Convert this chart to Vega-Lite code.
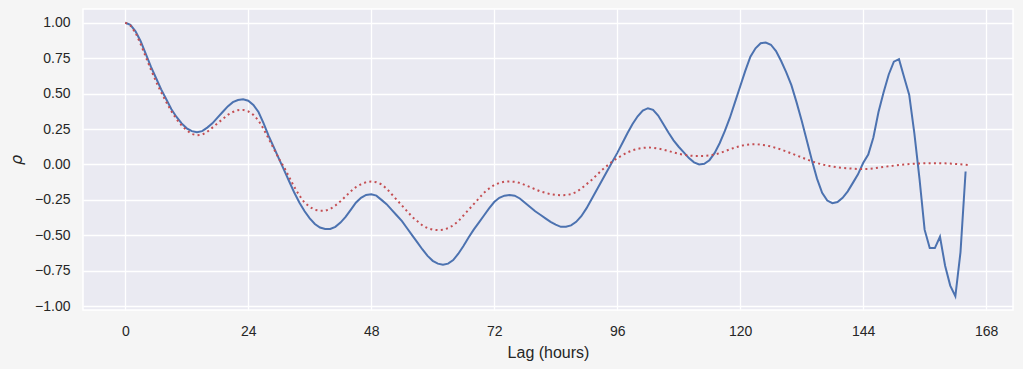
{
  "$schema": "https://vega.github.io/schema/vega-lite/v6.json",
  "width": 930,
  "height": 301,
  "autosize": {"type": "none"},
  "padding": {"left": 83, "top": 9, "right": 10, "bottom": 59},
  "background": "#f5f5f5",
  "config": {
    "view": {"fill": "#eaeaf2", "stroke": "white", "strokeWidth": 1.5},
    "axis": {
      "grid": true, "gridColor": "white", "gridWidth": 1.3, "domain": false,
      "ticks": false, "tickSize": 0, "labelOverlap": false,
      "labelFont": "Liberation Sans", "labelFontSize": 14, "labelColor": "#262626",
      "titleFont": "Liberation Sans", "titleFontSize": 16, "titleColor": "#262626", "titleFontWeight": "normal"
    }
  },
  "data": {"values": [
    {"lag":0,"acf":1.0,"model":1.0},{"lag":1,"acf":0.985,"model":0.98},{"lag":2,"acf":0.94,"model":0.93},{"lag":3,"acf":0.87,"model":0.85},{"lag":4,"acf":0.78,"model":0.76},{"lag":5,"acf":0.69,"model":0.67},{"lag":6,"acf":0.61,"model":0.585},{"lag":7,"acf":0.53,"model":0.51},{"lag":8,"acf":0.46,"model":0.44},{"lag":9,"acf":0.39,"model":0.375},
    {"lag":10,"acf":0.335,"model":0.32},{"lag":11,"acf":0.29,"model":0.275},{"lag":12,"acf":0.255,"model":0.24},{"lag":13,"acf":0.235,"model":0.215},{"lag":14,"acf":0.228,"model":0.206},{"lag":15,"acf":0.235,"model":0.21},{"lag":16,"acf":0.26,"model":0.23},{"lag":17,"acf":0.29,"model":0.26},{"lag":18,"acf":0.33,"model":0.29},{"lag":19,"acf":0.37,"model":0.32},
    {"lag":20,"acf":0.41,"model":0.35},{"lag":21,"acf":0.44,"model":0.37},{"lag":22,"acf":0.455,"model":0.383},{"lag":23,"acf":0.46,"model":0.385},{"lag":24,"acf":0.45,"model":0.375},{"lag":25,"acf":0.42,"model":0.35},{"lag":26,"acf":0.37,"model":0.31},{"lag":27,"acf":0.29,"model":0.25},{"lag":28,"acf":0.2,"model":0.18},{"lag":29,"acf":0.12,"model":0.11},
    {"lag":30,"acf":0.04,"model":0.04},{"lag":31,"acf":-0.04,"model":-0.02},{"lag":32,"acf":-0.12,"model":-0.09},{"lag":33,"acf":-0.2,"model":-0.16},{"lag":34,"acf":-0.27,"model":-0.22},{"lag":35,"acf":-0.33,"model":-0.27},{"lag":36,"acf":-0.38,"model":-0.3},{"lag":37,"acf":-0.42,"model":-0.32},{"lag":38,"acf":-0.445,"model":-0.327},{"lag":39,"acf":-0.455,"model":-0.327},
    {"lag":40,"acf":-0.455,"model":-0.315},{"lag":41,"acf":-0.44,"model":-0.29},{"lag":42,"acf":-0.41,"model":-0.26},{"lag":43,"acf":-0.37,"model":-0.225},{"lag":44,"acf":-0.32,"model":-0.19},{"lag":45,"acf":-0.27,"model":-0.16},{"lag":46,"acf":-0.235,"model":-0.14},{"lag":47,"acf":-0.215,"model":-0.125},{"lag":48,"acf":-0.21,"model":-0.12},{"lag":49,"acf":-0.22,"model":-0.125},
    {"lag":50,"acf":-0.25,"model":-0.14},{"lag":51,"acf":-0.28,"model":-0.17},{"lag":52,"acf":-0.32,"model":-0.21},{"lag":53,"acf":-0.36,"model":-0.25},{"lag":54,"acf":-0.4,"model":-0.29},{"lag":55,"acf":-0.45,"model":-0.33},{"lag":56,"acf":-0.5,"model":-0.37},{"lag":57,"acf":-0.55,"model":-0.4},{"lag":58,"acf":-0.6,"model":-0.43},{"lag":59,"acf":-0.645,"model":-0.45},
    {"lag":60,"acf":-0.68,"model":-0.46},{"lag":61,"acf":-0.7,"model":-0.463},{"lag":62,"acf":-0.707,"model":-0.461},{"lag":63,"acf":-0.7,"model":-0.45},{"lag":64,"acf":-0.675,"model":-0.43},{"lag":65,"acf":-0.63,"model":-0.4},{"lag":66,"acf":-0.575,"model":-0.36},{"lag":67,"acf":-0.515,"model":-0.32},{"lag":68,"acf":-0.46,"model":-0.28},{"lag":69,"acf":-0.41,"model":-0.24},
    {"lag":70,"acf":-0.36,"model":-0.2},{"lag":71,"acf":-0.31,"model":-0.17},{"lag":72,"acf":-0.265,"model":-0.145},{"lag":73,"acf":-0.235,"model":-0.13},{"lag":74,"acf":-0.22,"model":-0.122},{"lag":75,"acf":-0.215,"model":-0.12},{"lag":76,"acf":-0.22,"model":-0.122},{"lag":77,"acf":-0.24,"model":-0.13},{"lag":78,"acf":-0.27,"model":-0.145},{"lag":79,"acf":-0.3,"model":-0.16},
    {"lag":80,"acf":-0.33,"model":-0.175},{"lag":81,"acf":-0.355,"model":-0.19},{"lag":82,"acf":-0.38,"model":-0.2},{"lag":83,"acf":-0.405,"model":-0.21},{"lag":84,"acf":-0.425,"model":-0.215},{"lag":85,"acf":-0.44,"model":-0.217},{"lag":86,"acf":-0.44,"model":-0.216},{"lag":87,"acf":-0.43,"model":-0.21},{"lag":88,"acf":-0.405,"model":-0.195},{"lag":89,"acf":-0.365,"model":-0.17},
    {"lag":90,"acf":-0.31,"model":-0.14},{"lag":91,"acf":-0.245,"model":-0.11},{"lag":92,"acf":-0.18,"model":-0.075},{"lag":93,"acf":-0.115,"model":-0.04},{"lag":94,"acf":-0.05,"model":-0.01},{"lag":95,"acf":0.015,"model":0.02},{"lag":96,"acf":0.08,"model":0.045},{"lag":97,"acf":0.15,"model":0.065},{"lag":98,"acf":0.22,"model":0.085},{"lag":99,"acf":0.285,"model":0.1},
    {"lag":100,"acf":0.34,"model":0.11},{"lag":101,"acf":0.38,"model":0.117},{"lag":102,"acf":0.397,"model":0.12},{"lag":103,"acf":0.385,"model":0.118},{"lag":104,"acf":0.345,"model":0.112},{"lag":105,"acf":0.285,"model":0.105},{"lag":106,"acf":0.225,"model":0.095},{"lag":107,"acf":0.17,"model":0.085},{"lag":108,"acf":0.125,"model":0.075},{"lag":109,"acf":0.085,"model":0.068},
    {"lag":110,"acf":0.045,"model":0.063},{"lag":111,"acf":0.015,"model":0.06},{"lag":112,"acf":0.0,"model":0.06},{"lag":113,"acf":0.005,"model":0.06},{"lag":114,"acf":0.03,"model":0.063},{"lag":115,"acf":0.08,"model":0.07},{"lag":116,"acf":0.15,"model":0.08},{"lag":117,"acf":0.235,"model":0.093},{"lag":118,"acf":0.33,"model":0.107},{"lag":119,"acf":0.44,"model":0.12},
    {"lag":120,"acf":0.55,"model":0.13},{"lag":121,"acf":0.66,"model":0.138},{"lag":122,"acf":0.76,"model":0.142},{"lag":123,"acf":0.82,"model":0.143},{"lag":124,"acf":0.855,"model":0.14},{"lag":125,"acf":0.86,"model":0.135},{"lag":126,"acf":0.845,"model":0.127},{"lag":127,"acf":0.8,"model":0.117},{"lag":128,"acf":0.73,"model":0.105},{"lag":129,"acf":0.65,"model":0.092},
    {"lag":130,"acf":0.56,"model":0.078},{"lag":131,"acf":0.44,"model":0.064},{"lag":132,"acf":0.31,"model":0.05},{"lag":133,"acf":0.17,"model":0.036},{"lag":134,"acf":0.03,"model":0.022},{"lag":135,"acf":-0.1,"model":0.01},{"lag":136,"acf":-0.2,"model":0.0},{"lag":137,"acf":-0.255,"model":-0.008},{"lag":138,"acf":-0.273,"model":-0.015},{"lag":139,"acf":-0.265,"model":-0.02},
    {"lag":140,"acf":-0.235,"model":-0.024},{"lag":141,"acf":-0.19,"model":-0.027},{"lag":142,"acf":-0.13,"model":-0.03},{"lag":143,"acf":-0.07,"model":-0.032},{"lag":144,"acf":0.01,"model":-0.033},{"lag":145,"acf":0.07,"model":-0.032},{"lag":146,"acf":0.19,"model":-0.028},{"lag":147,"acf":0.37,"model":-0.023},{"lag":148,"acf":0.51,"model":-0.018},{"lag":149,"acf":0.635,"model":-0.013},
    {"lag":150,"acf":0.725,"model":-0.008},{"lag":151,"acf":0.743,"model":-0.004},{"lag":152,"acf":0.615,"model":0.0},{"lag":153,"acf":0.49,"model":0.003},{"lag":154,"acf":0.22,"model":0.005},{"lag":155,"acf":-0.1,"model":0.007},{"lag":156,"acf":-0.46,"model":0.008},{"lag":157,"acf":-0.59,"model":0.009},{"lag":158,"acf":-0.59,"model":0.009},{"lag":159,"acf":-0.51,"model":0.009},
    {"lag":160,"acf":-0.715,"model":0.008},{"lag":161,"acf":-0.855,"model":0.006},{"lag":162,"acf":-0.93,"model":0.004},{"lag":163,"acf":-0.62,"model":0.001},{"lag":164,"acf":-0.05,"model":-0.002},{"lag":165,"acf":null,"model":-0.005}
  ]},
  "encoding": {
    "x": {"field": "lag", "type": "quantitative", "title": "Lag (hours)",
      "scale": {"domain": [-8.25, 173.25], "nice": false, "zero": false},
      "axis": {"values": [0,24,48,72,96,120,144,168], "labelPadding": 14, "titlePadding": 6, "labelFlush": false}}
  },
  "layer": [
    {
      "transform": [{"filter": "datum.acf != null"}],
      "mark": {"type": "line", "color": "#4c72b0", "strokeWidth": 2, "clip": true},
      "encoding": {
        "y": {"field": "acf", "type": "quantitative", "title": "ρ",
          "scale": {"domain": [-1.027, 1.097], "nice": false, "zero": false},
          "axis": {"values": [-1,-0.75,-0.5,-0.25,0,0.25,0.5,0.75,1], "format": ".2f", "labelPadding": 13, "titlePadding": 10,
            "titleFont": "DejaVu Sans", "titleFontStyle": "italic", "titleFontSize": 16, "labelFlush": false}}
      }
    },
    {
      "mark": {"type": "line", "color": "#c44e52", "strokeWidth": 2, "strokeDash": [2, 3.3], "strokeCap": "butt", "clip": true},
      "encoding": {
        "y": {"field": "model", "type": "quantitative", "title": "ρ",
          "scale": {"domain": [-1.027, 1.097], "nice": false, "zero": false},
          "axis": {"values": [-1,-0.75,-0.5,-0.25,0,0.25,0.5,0.75,1], "format": ".2f", "labelPadding": 13, "titlePadding": 10,
            "titleFont": "DejaVu Sans", "titleFontStyle": "italic", "titleFontSize": 16, "labelFlush": false}}
      }
    }
  ]
}
